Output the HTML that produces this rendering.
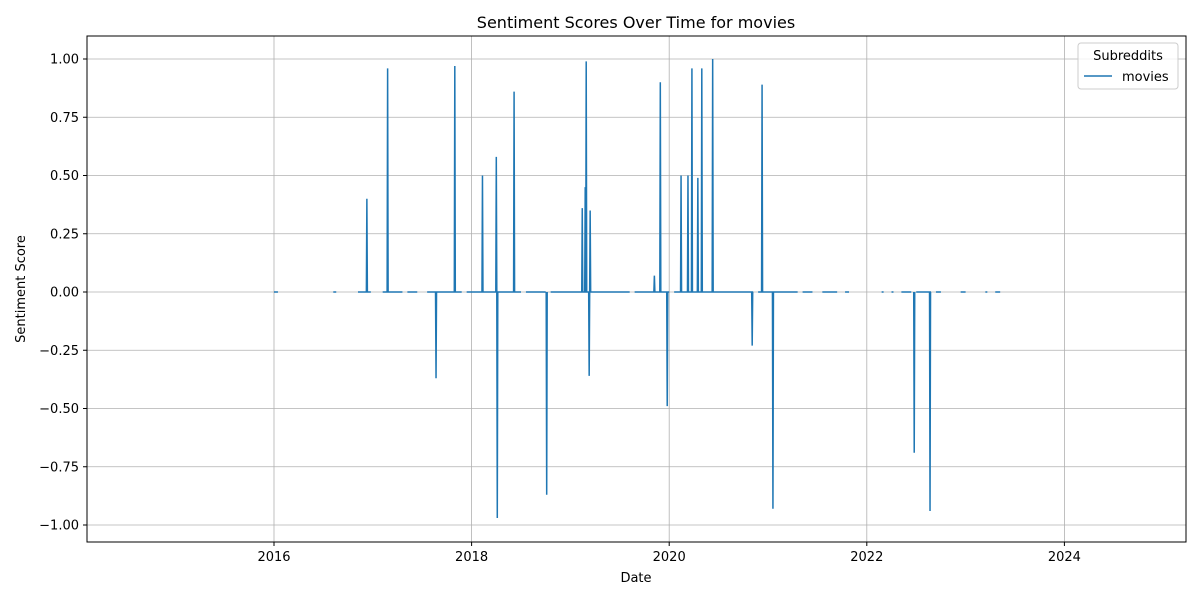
<!DOCTYPE html>
<html><head><meta charset="utf-8"><style>
body{margin:0;background:#fff;font-family:"Liberation Sans","DejaVu Sans",sans-serif}
svg text{font-family:"DejaVu Sans","Liberation Sans",sans-serif;fill:#000}
</style></head><body>
<svg id="chart" width="1200" height="600" xmlns="http://www.w3.org/2000/svg">
<rect width="1200" height="600" fill="#fff"/>
<g id="grid"></g>
<g id="series"></g>
<rect x="87" y="36" width="1099" height="506" fill="none" stroke="#000" stroke-width="1"/>
<g id="axes"></g>
<text x="636" y="28" text-anchor="middle" font-size="16">Sentiment Scores Over Time for movies</text>
<text x="636" y="582" text-anchor="middle" font-size="13">Date</text>
<text transform="translate(25,289) rotate(-90)" text-anchor="middle" font-size="13">Sentiment Score</text>
<g>
<rect x="1078" y="43" width="100" height="46" rx="3" fill="#fff" fill-opacity="0.8" stroke="#ccc"/>
<text x="1128" y="60" text-anchor="middle" font-size="13">Subreddits</text>
<line x1="1084" y1="76" x2="1112" y2="76" stroke="#1f77b4" stroke-width="1.5"/>
<text x="1122" y="81" font-size="13">movies</text>
</g>
</svg>
<script>
const xTicks=[2016,2018,2020,2022,2024];
const yTicks=[-1,-0.75,-0.5,-0.25,0,0.25,0.5,0.75,1];
const spikeDates=[2016.94,2017.15,2017.64,2017.83,2018.11,2018.25,2018.26,2018.43,2018.76,2019.12,2019.15,2019.16,2019.19,2019.20,2019.85,2019.91,2019.98,2020.12,2020.19,2020.23,2020.29,2020.33,2020.44,2020.84,2020.94,2021.05,2022.48,2022.64];
const spikeValues=[0.40,0.96,-0.37,0.97,0.50,0.58,-0.97,0.86,-0.87,0.36,0.45,0.99,-0.36,0.35,0.07,0.90,-0.49,0.50,0.50,0.96,0.49,0.96,1.00,-0.23,0.89,-0.93,-0.69,-0.94];
const zeroStarts=[2016.0,2016.6,2016.85,2017.1,2017.35,2017.55,2017.95,2018.55,2018.8,2019.65,2020.05,2020.9,2021.35,2021.55,2021.78,2022.15,2022.25,2022.35,2022.5,2022.7,2022.95,2023.2,2023.3];
const zeroEnds=[2016.04,2016.63,2016.98,2017.3,2017.45,2017.9,2018.5,2018.75,2019.6,2020.0,2020.85,2021.3,2021.45,2021.7,2021.82,2022.17,2022.27,2022.45,2022.65,2022.75,2023.0,2023.22,2023.35];
const NS="http://www.w3.org/2000/svg";
const X=v=>274+(v-2016)*98.8;
const Y=v=>292-v*233;
function mk(t,a,p){const e=document.createElementNS(NS,t);for(const k in a)e.setAttribute(k,a[k]);p.appendChild(e);return e;}
const grid=document.getElementById('grid'),axes=document.getElementById('axes'),ser=document.getElementById('series');
xTicks.forEach(t=>{
 const g=mk('line',{x1:X(t),x2:X(t),y1:36,y2:542,stroke:'#b0b0b0','stroke-width':0.8},grid);
 
 
 mk('line',{x1:X(t),x2:X(t),y1:542,y2:546,stroke:'#000'},axes);
 const l=mk('text',{x:X(t),y:561,'text-anchor':'middle','font-size':13},axes);l.textContent=t;
 
 
});
yTicks.forEach(t=>{
 const g=mk('line',{x1:87,x2:1186,y1:Y(t),y2:Y(t),stroke:'#b0b0b0','stroke-width':0.8},grid);
 
 
 mk('line',{x1:83,x2:87,y1:Y(t),y2:Y(t),stroke:'#000'},axes);
 const l=mk('text',{x:79,y:Y(t)+4.5,'text-anchor':'end','font-size':13},axes);l.textContent=t.toFixed(2).replace('-','−');
 
 
});
zeroStarts.forEach((s,i)=>{
 const e=mk('line',{x1:X(s),x2:Math.max(X(zeroEnds[i]),X(s)+1.5),y1:Y(0),y2:Y(0),stroke:'#1f77b4','stroke-width':1.5},ser);
 
 
});
spikeDates.forEach((d,i)=>{
 const x=X(d);
 const e=mk('path',{d:`M${x-0.5},${Y(0)}L${x},${Y(spikeValues[i])}L${x+0.5},${Y(0)}`,stroke:'#1f77b4','stroke-width':1.5,fill:'none'},ser);
 
 
});
</script>
</body></html>
